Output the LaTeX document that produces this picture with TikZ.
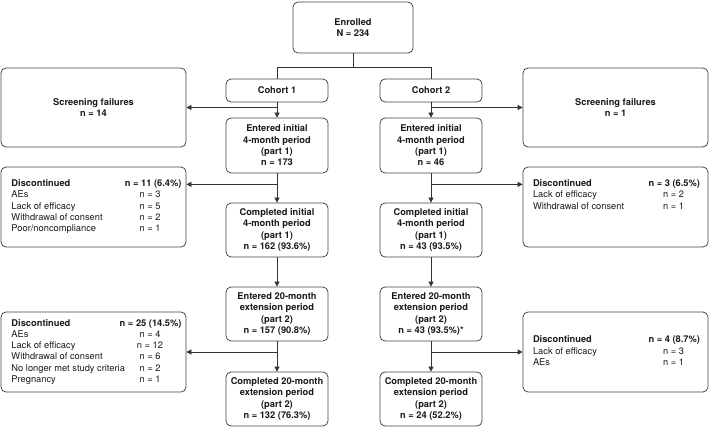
\documentclass[tikz,border=0pt]{standalone}
\usepackage{fontspec}
\setmainfont{TeX Gyre Heros}
\usepackage{array}
\usetikzlibrary{arrows.meta}
\usetikzlibrary{calc}
\newcommand{\boxFont}{\fontsize{9.3}{11.3}\selectfont}

\begin{document}
\begin{tikzpicture}[x=1pt,y=-1pt,
	box/.style={draw=black!75, line width=0.75pt, rounded corners=5pt, text=black!90},
	flowBox/.style={box, font=\boxFont\bfseries, align=center, minimum width=102pt, minimum height=54pt, inner sep=2pt},
	sideBox/.style={box, font=\boxFont, minimum width=185pt, minimum height=80pt, inner sep=0pt},
	link/.style={draw=black!80, line width=0.75pt},
	arr/.style={link, -{Triangle[length=5pt,width=5pt]}}]
\useasboundingbox (0,0) rectangle (709,427);

	% Top of the chart
\node[box, font=\boxFont\bfseries, align=center, minimum width=120pt, minimum height=51pt] (enrolled) at (353,27.5) {Enrolled\\N = 234};
\node[flowBox, minimum height=23pt] (cohortA) at (277,90.5) {Cohort 1};
\node[flowBox, minimum height=23pt] (cohortB) at (431,90.5) {Cohort 2};

	% Cohort 1 column
\node[flowBox, minimum height=55pt] (enteredA) at (277,145.5) {Entered initial\\4-month period\\(part 1)\\n = 173};
\node[flowBox] (completedA) at (277,230) {Completed initial\\4-month period\\(part 1)\\n = 162 (93.6\%)};
\node[flowBox] (extendedA) at (277,314) {Entered 20-month\\extension period\\(part 2)\\n = 157 (90.8\%)};
\node[flowBox] (finishedA) at (277,399) {Completed 20-month\\extension period\\(part 2)\\n = 132 (76.3\%)};

	% Cohort 2 column
\node[flowBox, minimum height=55pt] (enteredB) at (431,145.5) {Entered initial\\4-month period\\(part 1)\\n = 46};
\node[flowBox] (completedB) at (431,230) {Completed initial\\4-month period\\(part 1)\\n = 43 (93.5\%)};
\node[flowBox] (extendedB) at (431,314) {Entered 20-month\\extension period\\(part 2)\\n = 43 (93.5\%)*};
\node[flowBox] (finishedB) at (431,399) {Completed 20-month\\extension period\\(part 2)\\n = 24 (52.2\%)};

	% Side boxes - left
\node[sideBox, font=\boxFont\bfseries, align=center, minimum height=79pt] (screenA) at (93.5,107.5) {Screening failures\\n = 14};
\node[sideBox] (dropA1) at (93.5,207) {\begin{tabular}{@{\hspace{6pt}}w{l}{107pt}@{}w{c}{63pt}@{}}
\textbf{Discontinued} & \hfill\textbf{n = 11 (6.4\%)}\\
AEs & n = 3\\
Lack of efficacy & n = 5\\
Withdrawal of consent & n = 2\\
Poor/noncompliance & n = 1
\end{tabular}};
\node[sideBox] (dropA2) at (93.5,352) {\begin{tabular}{@{\hspace{6pt}}w{l}{107pt}@{}w{c}{63pt}@{}}
\textbf{Discontinued} & \hfill\textbf{n = 25 (14.5\%)}\\
AEs & n = 4\\
Lack of efficacy & n = 12\\
Withdrawal of consent & n = 6\\
No longer met study criteria & n = 2\\
Pregnancy & n = 1
\end{tabular}};

	% Side boxes - right
\node[sideBox, font=\boxFont\bfseries, align=center, minimum height=79pt] (screenB) at (615.5,107.5) {Screening failures\\n = 1};
\node[sideBox] (dropB1) at (615.5,207) {\begin{tabular}{@{\hspace{2pt}}w{l}{114pt}@{}w{c}{53pt}@{}}
\textbf{Discontinued} & \hfill\textbf{n = 3 (6.5\%)}\\
Lack of efficacy & n = 2\\
Withdrawal of consent & n = 1\\
 & \\
 &
\end{tabular}};
\node[sideBox] (dropB2) at (615.5,352) {\begin{tabular}{@{\hspace{2pt}}w{l}{114pt}@{}w{c}{53pt}@{}}
\textbf{Discontinued} & \hfill\textbf{n = 4 (8.7\%)}\\
Lack of efficacy & n = 3\\
AEs & n = 1
\end{tabular}};

	% Connectors
\coordinate (split) at ($(enrolled.south)+(0,14)$);
\draw[link] (enrolled.south) -- (split) -| (cohortA.north);
\draw[link] (split) -| (cohortB.north);
\foreach \col in {A,B} {
	\coordinate (fork1\col) at (cohort\col.south |- screen\col.east);
	\coordinate (fork2\col) at ($(entered\col.south)+(0,11)$);
	\coordinate (fork3\col) at (extended\col.south |- drop\col2.east);
	\draw[arr] (cohort\col.south) -- (entered\col.north);
	\draw[arr] (entered\col.south) -- (completed\col.north);
	\draw[arr] (completed\col.south) -- (extended\col.north);
	\draw[arr] (extended\col.south) -- (finished\col.north);
}
\draw[arr] (fork1A) -- (fork1A -| screenA.east);
\draw[arr] (fork2A) -- (fork2A -| dropA1.east);
\draw[arr] (fork3A) -- (fork3A -| dropA2.east);
\draw[arr] (fork1B) -- (fork1B -| screenB.west);
\draw[arr] (fork2B) -- (fork2B -| dropB1.west);
\draw[arr] (fork3B) -- (fork3B -| dropB2.west);
 \end{tikzpicture}
\end{document}
